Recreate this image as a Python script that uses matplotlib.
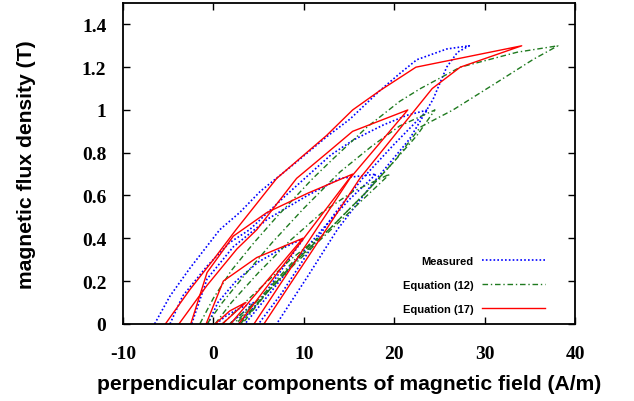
import matplotlib
matplotlib.use("Agg")
import matplotlib.pyplot as plt
from matplotlib.ticker import FormatStrFormatter

plt.rcParams['axes.unicode_minus'] = False

# peak flux densities of the minor loops (T)
peaks = [1.3, 1.0, 0.7, 0.4, 0.1]

# Measured loops: H (A/m) and B (T), path = descending branch -> tip -> ascending branch
meas_h_13 = [-6.5, -4.8, -2.6, -0.4, 0.7, 2.9, 5.2, 9, 12.6, 15.1, 18.4, 20.6, 22.5, 25.8, 28.3,
             27, 25.8, 24.3, 21.7, 17.5, 13.7, 10.4, 7.0]
meas_b_13 = [0, 0.13, 0.26, 0.38, 0.44, 0.52, 0.62, 0.75, 0.877, 0.957, 1.09, 1.17, 1.235, 1.285, 1.30,
             1.27, 1.2, 1.05, 0.864, 0.65, 0.44, 0.22, 0]
meas_h_10 = [-4.8, -3.4, -0.7, 1.8, 4.0, 8, 13, 15.5, 18.8, 21.4, 23.7,
             20, 16.5, 13.5, 11.5, 9.5, 7.5, 5.0]
meas_b_10 = [0, 0.13, 0.27, 0.38, 0.44, 0.60, 0.79, 0.86, 0.93, 0.975, 1.0,
             0.84, 0.68, 0.52, 0.40, 0.27, 0.14, 0]
meas_h_07 = [-2.4, -0.7, 2.2, 6, 10.4, 14, 18, 15, 12, 9, 6, 3.5]
meas_b_07 = [0, 0.21, 0.36, 0.49, 0.6, 0.68, 0.70, 0.58, 0.44, 0.29, 0.13, 0]
meas_h_04 = [-0.6, 0.5, 2.5, 5, 7.5, 10, 8.5, 7, 5, 2.8]
meas_b_04 = [0, 0.1, 0.2, 0.29, 0.35, 0.40, 0.31, 0.22, 0.1, 0]
meas_h_01 = [0.3, 1.5, 3, 4.5, 3.5, 2.5, 1.8]
meas_b_01 = [0, 0.04, 0.075, 0.1, 0.06, 0.025, 0]

# Equation (12)
eq12_h_13 = [-1.5, 0, 2, 4.5, 7, 9, 11, 13.2, 17, 20.6, 22.9, 27.3, 33.6, 38.1,
             35.4, 31.4, 26.5, 22.9, 20, 17, 13, 9, 6, 3.2]
eq12_b_13 = [0, 0.12, 0.25, 0.38, 0.5, 0.59, 0.68, 0.77, 0.92, 1.04, 1.1, 1.2, 1.27, 1.3,
             1.237, 1.13, 1.0, 0.92, 0.76, 0.62, 0.45, 0.29, 0.15, 0]
eq12_h_10 = [-0.7, 1, 3.5, 6.5, 10, 14, 17.5, 20.6, 24.5, 22.5, 20, 17, 13, 9, 6, 3]
eq12_b_10 = [0, 0.1, 0.23, 0.38, 0.54, 0.71, 0.83, 0.925, 1.0, 0.88, 0.76, 0.62, 0.45, 0.29, 0.15, 0]
eq12_h_07 = [0.2, 2, 5, 8.5, 12, 15.5, 19.5, 17, 13, 9, 6, 2.8]
eq12_b_07 = [0, 0.1, 0.24, 0.39, 0.52, 0.62, 0.7, 0.6, 0.44, 0.28, 0.15, 0]
eq12_h_04 = [1.0, 3, 5.5, 8.5, 11.5, 9, 6, 2.5]
eq12_b_04 = [0, 0.08, 0.18, 0.3, 0.4, 0.3, 0.16, 0]
eq12_h_01 = [1.8, 3.2, 4.6, 3.5, 2.2]
eq12_b_01 = [0, 0.05, 0.1, 0.05, 0]

# Equation (17)
eq17_h_13 = [-5.3, -2.6, 0, 2.5, 7.0, 12.5, 15.4, 18.4, 22.4, 34.1, 27.3, 24.2, 16.2, 5.6]
eq17_b_13 = [0, 0.16, 0.3, 0.44, 0.68, 0.88, 1.0, 1.09, 1.2, 1.3, 1.2, 1.1, 0.68, 0]
eq17_h_10 = [-3.8, -0.7, 2.6, 4.8, 9.2, 12.6, 15.4, 21.5, 15.1, 4.5]
eq17_b_10 = [0, 0.18, 0.35, 0.44, 0.68, 0.80, 0.90, 1.0, 0.68, 0]
eq17_h_07 = [-2.5, -0.7, 2.2, 5.9, 10.4, 15.4, 2.8]
eq17_b_07 = [0, 0.24, 0.41, 0.52, 0.61, 0.70, 0]
eq17_h_04 = [-0.8, 1.1, 4.8, 9.9, 1.9]
eq17_b_04 = [0, 0.2, 0.31, 0.40, 0]
eq17_h_01 = [0.2, 1.8, 3.6, 1.0]
eq17_b_01 = [0, 0.06, 0.1, 0]

measured = [(meas_h_13, meas_b_13), (meas_h_10, meas_b_10), (meas_h_07, meas_b_07),
            (meas_h_04, meas_b_04), (meas_h_01, meas_b_01)]
eq12 = [(eq12_h_13, eq12_b_13), (eq12_h_10, eq12_b_10), (eq12_h_07, eq12_b_07),
        (eq12_h_04, eq12_b_04), (eq12_h_01, eq12_b_01)]
eq17 = [(eq17_h_13, eq17_b_13), (eq17_h_10, eq17_b_10), (eq17_h_07, eq17_b_07),
        (eq17_h_04, eq17_b_04), (eq17_h_01, eq17_b_01)]

fig = plt.figure(figsize=(6.34, 4.02), dpi=100)
ax = fig.add_axes([0.194, 0.192, 0.713, 0.798])

styles = [
    (measured, 'Measured', dict(color='blue', linestyle=(0, (1, 1.3)), linewidth=1.2)),
    (eq12, 'Equation (12)', dict(color='#1f7a1f', linestyle=(0, (4, 2, 1, 2)), linewidth=1.0)),
    (eq17, 'Equation (17)', dict(color='red', linestyle='-', linewidth=1.0)),
]
for loops, label, kw in styles:
    for i, (h, b) in enumerate(loops):
        ax.plot(h, b, label=label if i == 0 else None, **kw)

ax.set_xlim(-10, 40)
ax.set_ylim(0, 1.5)
ax.set_xticks([-10, 0, 10, 20, 30, 40])
ax.set_yticks([0, 0.2, 0.4, 0.6, 0.8, 1.0, 1.2, 1.4])
ax.yaxis.set_major_formatter(FormatStrFormatter('%g'))
ax.tick_params(direction='in', length=5, width=1, top=True, right=True)
ax.tick_params(axis='x', pad=15)
ax.tick_params(axis='y', pad=12)
for lab in ax.get_xticklabels() + ax.get_yticklabels():
    lab.set_fontfamily('Liberation Serif')
    lab.set_fontweight('bold')
    lab.set_fontsize(14)
for s in ax.spines.values():
    s.set_linewidth(1.3)

ax.set_xlabel('perpendicular components of magnetic field (A/m)', fontsize=15.2,
              fontweight='bold', family='Liberation Sans', labelpad=9)
ax.set_ylabel('magnetic flux density (T)', fontsize=15.2, fontweight='bold',
              family='Liberation Sans', labelpad=33)

leg = ax.legend(loc='lower right', bbox_to_anchor=(0.955, 0.0), frameon=False,
                markerfirst=False, handlelength=5.6, labelspacing=1.25,
                prop=dict(family='Liberation Sans', weight='bold', size=8))

fig.savefig('out.png', dpi=100)
